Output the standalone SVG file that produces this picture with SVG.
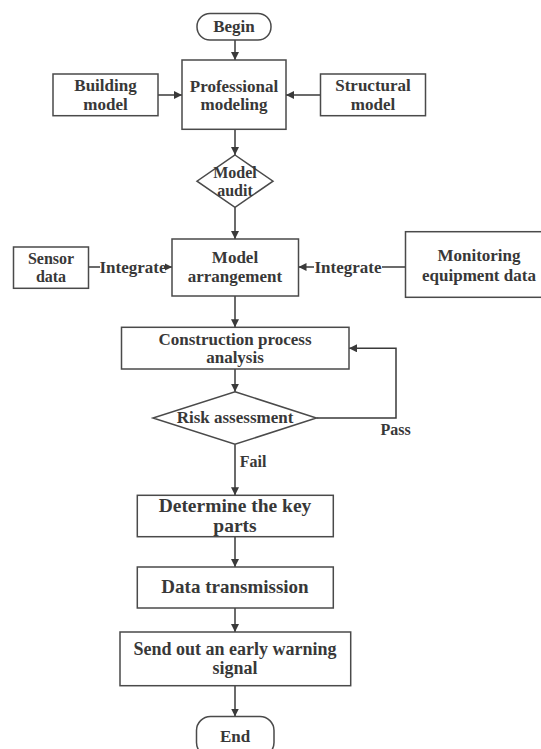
<svg xmlns="http://www.w3.org/2000/svg" width="541" height="749" viewBox="0 0 541 749">
<defs>
<marker id="ah" viewBox="0 0 10 10" refX="10" refY="5" markerWidth="8" markerHeight="8" markerUnits="userSpaceOnUse" orient="auto">
<path d="M0,0 L10,5 L0,10 z" fill="#3a3a3a"/>
</marker>
<style>
.b{fill:#fff;stroke:#4a4a4a;stroke-width:1.5}
.t{font-family:"Liberation Serif","Times New Roman",serif;font-weight:bold;font-size:17px;fill:#383838;text-anchor:middle}
.s{font-size:16px}
.c{fill:none;stroke:#3a3a3a;stroke-width:1.5}
.lb{fill:#fff;stroke:none}
</style>
</defs>
<rect width="541" height="749" fill="#fff"/>
<g id="connectors">
<line class="c" x1="235" y1="40" x2="235" y2="60" marker-end="url(#ah)"/>
<line class="c" x1="158" y1="95" x2="182" y2="95" marker-end="url(#ah)"/>
<line class="c" x1="320.5" y1="95" x2="286" y2="95" marker-end="url(#ah)"/>
<line class="c" x1="235" y1="129.3" x2="235" y2="155" marker-end="url(#ah)"/>
<line class="c" x1="235" y1="207.3" x2="235" y2="239" marker-end="url(#ah)"/>
<line class="c" x1="88.3" y1="267" x2="172" y2="267" marker-end="url(#ah)"/>
<line class="c" x1="405.5" y1="267" x2="298.5" y2="267" marker-end="url(#ah)"/>
<line class="c" x1="235" y1="296" x2="235" y2="327.3" marker-end="url(#ah)"/>
<line class="c" x1="235" y1="369" x2="235" y2="391.7" marker-end="url(#ah)"/>
<polyline class="c" points="316.4,418 396,418 396,348.3 349,348.3" marker-end="url(#ah)"/>
<line class="c" x1="235" y1="444.3" x2="235" y2="495.3" marker-end="url(#ah)"/>
<line class="c" x1="235" y1="536.7" x2="235" y2="567" marker-end="url(#ah)"/>
<line class="c" x1="235" y1="608" x2="235" y2="632" marker-end="url(#ah)"/>
<line class="c" x1="235" y1="685.7" x2="235" y2="716.5" marker-end="url(#ah)"/>
<rect class="lb" x="100" y="257" width="65" height="20"/>
<text class="t" x="133" y="273">Integrate</text>
<rect class="lb" x="314" y="257" width="68" height="20"/>
<text class="t" x="348" y="273">Integrate</text>
<text class="t s" x="395.6" y="435">Pass</text>
<text class="t s" x="253" y="467">Fail</text>
</g>
<g id="begin">
<rect class="b" x="197" y="13.5" width="74" height="26.5" rx="13" ry="13"/>
<text class="t" x="234" y="32.3">Begin</text>
</g>
<g id="professional-modeling">
<rect class="b" x="182" y="60" width="104" height="69.3"/>
<text class="t" x="234" y="91.7">Professional</text>
<text class="t" x="234" y="110">modeling</text>
</g>
<g id="building-model">
<rect class="b" x="53" y="74" width="105" height="41.7"/>
<text class="t" x="105.5" y="91">Building</text>
<text class="t" x="105.5" y="109.5">model</text>
</g>
<g id="structural-model">
<rect class="b" x="320.5" y="74" width="105" height="41.7"/>
<text class="t" x="373" y="91">Structural</text>
<text class="t" x="373" y="109.5">model</text>
</g>
<g id="model-audit">
<polygon class="b" points="235,155 273,181.2 235,207.3 197,181.2"/>
<text class="t s" x="235" y="177.5">Model</text>
<text class="t s" x="235" y="195.5">audit</text>
</g>
<g id="sensor-data">
<rect class="b" x="13.5" y="247" width="75" height="41.3"/>
<text class="t s" x="51" y="264">Sensor</text>
<text class="t s" x="51" y="282">data</text>
</g>
<g id="model-arrangement">
<rect class="b" x="172" y="239" width="126.5" height="57"/>
<text class="t" x="235" y="263">Model</text>
<text class="t" x="235" y="282">arrangement</text>
</g>
<g id="monitoring-equipment-data">
<rect class="b" x="405.5" y="231.7" width="148" height="65.6"/>
<text class="t" x="479" y="261">Monitoring</text>
<text class="t" x="479" y="280.5">equipment data</text>
</g>
<g id="construction-process-analysis">
<rect class="b" x="121.5" y="327.3" width="227.5" height="41.7"/>
<text class="t" x="235" y="344.5">Construction process</text>
<text class="t" x="235" y="363">analysis</text>
</g>
<g id="risk-assessment">
<polygon class="b" points="235,391.7 316.4,418 235,444.3 153,418"/>
<text class="t" x="235" y="423.3">Risk assessment</text>
</g>
<g id="determine-key-parts">
<rect class="b" x="137.3" y="495.3" width="196" height="41.4"/>
<text class="t" x="235" y="511.5" style="font-size:19.5px">Determine the key</text>
<text class="t" x="235" y="532" style="font-size:19.5px">parts</text>
</g>
<g id="data-transmission">
<rect class="b" x="137.3" y="567" width="196" height="41"/>
<text class="t" x="235" y="593.3" style="font-size:19px">Data transmission</text>
</g>
<g id="early-warning">
<rect class="b" x="120" y="632" width="230.7" height="53.7"/>
<text class="t" x="235" y="655" style="font-size:18px">Send out an early warning</text>
<text class="t" x="235" y="674" style="font-size:18px">signal</text>
</g>
<g id="end">
<rect class="b" x="196.5" y="716.5" width="77.5" height="40" rx="14" ry="14"/>
<text class="t" x="235" y="741.7">End</text>
</g>
</svg>
